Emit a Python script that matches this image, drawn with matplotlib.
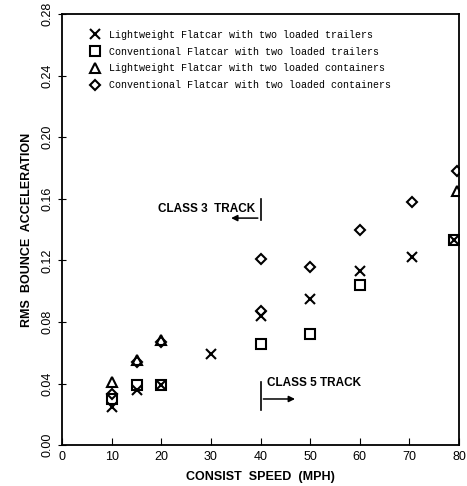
import matplotlib.pyplot as plt

# lightweight flatcar, two loaded trailers (x)
lw_trl_speed = [10, 15, 20, 30, 40, 50, 60, 70.5, 79]
lw_trl_acc = [0.025, 0.036, 0.039, 0.059, 0.084, 0.095, 0.113, 0.122, 0.133]

# conventional flatcar, two loaded trailers (square)
cv_trl_speed = [10, 15, 20, 40, 50, 60, 79]
cv_trl_acc = [0.030, 0.039, 0.039, 0.066, 0.072, 0.104, 0.133]

# lightweight flatcar, two loaded containers (triangle)
lw_ctn_speed = [10, 15, 20, 79.5]
lw_ctn_acc = [0.041, 0.055, 0.068, 0.165]

# conventional flatcar, two loaded containers (diamond)
cv_ctn_speed = [10, 15, 20, 40, 40, 50, 60, 70.5, 79.5]
cv_ctn_acc = [0.033, 0.054, 0.067, 0.087, 0.121, 0.116, 0.140, 0.158, 0.178]

legend_labels = [
    "Lightweight Flatcar with two loaded trailers",
    "Conventional Flatcar with two loaded trailers",
    "Lightweight Flatcar with two loaded containers",
    "Conventional Flatcar with two loaded containers",
]

x_ticks = list(range(0, 81, 10))
y_ticks = [0.00, 0.04, 0.08, 0.12, 0.16, 0.20, 0.24, 0.28]

fig = plt.figure(figsize=(4.67, 4.86), dpi=100)
ax = fig.add_axes([0.133, 0.084, 0.85, 0.887])

common = dict(linestyle="none", color="black", markerfacecolor="none", markeredgewidth=1.5)
ax.plot(lw_trl_speed, lw_trl_acc, marker="x", markersize=7.5, label=legend_labels[0], **common)
ax.plot(cv_trl_speed, cv_trl_acc, marker="s", markersize=6.5, label=legend_labels[1], **common)
ax.plot(lw_ctn_speed, lw_ctn_acc, marker="^", markersize=6.5, label=legend_labels[2], **common)
ax.plot(cv_ctn_speed, cv_ctn_acc, marker="D", markersize=5.5, label=legend_labels[3], **common)

# track class annotations
ax.plot([40, 40], [0.146, 0.160], color="black", lw=1.2)
ax.annotate("", xy=(33.5, 0.1475), xytext=(40, 0.1475),
            arrowprops=dict(arrowstyle="-|>", color="black", lw=1.1, mutation_scale=9))
ax.text(39, 0.1535, "CLASS 3  TRACK", ha="right", va="center", fontsize=8.5, fontweight="bold",
        family="Liberation Sans")

ax.plot([40, 40], [0.023, 0.041], color="black", lw=1.2)
ax.annotate("", xy=(47.5, 0.030), xytext=(40, 0.030),
            arrowprops=dict(arrowstyle="-|>", color="black", lw=1.1, mutation_scale=9))
ax.text(41.3, 0.0405, "CLASS 5 TRACK", ha="left", va="center", fontsize=8.5, fontweight="bold",
        family="Liberation Sans")

ax.set_xlim(0, 80)
ax.set_ylim(0, 0.28)
ax.set_xticks(x_ticks)
ax.set_yticks(y_ticks)
ax.set_yticklabels([f"{v:.2f}" for v in y_ticks], rotation=90, va="center")
ax.tick_params(axis="x", direction="in", length=5, labelsize=9, pad=4)
ax.tick_params(axis="y", direction="inout", length=6, labelsize=9, pad=3)
for lab in ax.get_xticklabels() + ax.get_yticklabels():
    lab.set_family("Liberation Sans")
for spine in ax.spines.values():
    spine.set_linewidth(1.3)

ax.set_xlabel("CONSIST  SPEED  (MPH)", fontsize=9, fontweight="bold", family="Liberation Sans", labelpad=6)
ax.set_ylabel("RMS  BOUNCE  ACCELERATION", fontsize=9, fontweight="bold", family="Liberation Sans", labelpad=6)

leg = ax.legend(loc="upper left", bbox_to_anchor=(0.058, 0.973), borderaxespad=0, frameon=False,
                prop=dict(family="Liberation Mono", size=7.2),
                handletextpad=0.8, labelspacing=0.68, handlelength=1.2)

fig.savefig("out.png", dpi=100, facecolor="white")
